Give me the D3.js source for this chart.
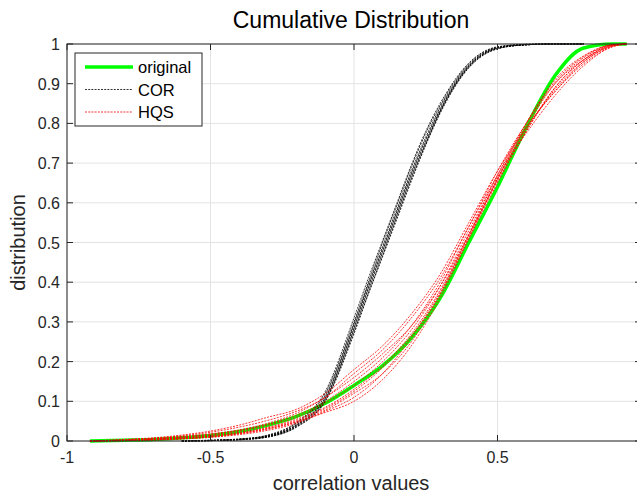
<!DOCTYPE html>
<html>
<head>
<meta charset="utf-8">
<script src="https://cdn.jsdelivr.net/npm/d3@7"></script>
<style>
  body { margin: 0; background: #fff; }
  svg { display: block; font-family: "Liberation Sans", Arial, sans-serif; }
  .grid line { stroke: #e3e3e3; stroke-width: 1; }
  .tick_label { font-size: 16px; fill: #262626; }
</style>
</head>
<body>
<svg id="graph" width="637" height="495"></svg>
<script>
// x grids for the cdf samples
let redX = [-0.92, -0.8, -0.7, -0.6, -0.5, -0.4, -0.3, -0.2, -0.1, 0, 0.1, 0.2, 0.3, 0.4, 0.5, 0.6, 0.7, 0.8, 0.9, 0.95];
let corX = [-0.6, -0.5, -0.4, -0.3, -0.2, -0.1, 0, 0.05, 0.1, 0.15, 0.2, 0.25, 0.3, 0.4, 0.5, 0.6, 0.7, 0.8];

// original (on redX)
let original = [0, 0.002, 0.004, 0.008, 0.014, 0.024, 0.04, 0.062, 0.095, 0.14, 0.19, 0.26, 0.36, 0.50, 0.64, 0.79, 0.92, 0.99, 1, 1];

// COR runs (on corX)
let cor = [
    [0, 0.001, 0.004, 0.012, 0.04, 0.11, 0.29, 0.39, 0.485, 0.58, 0.675, 0.76, 0.835, 0.945, 0.99, 0.998, 1, 1],
    [0, 0.001, 0.003, 0.01, 0.035, 0.1, 0.27, 0.37, 0.465, 0.56, 0.655, 0.745, 0.825, 0.94, 0.988, 0.998, 1, 1],
    [0, 0.002, 0.005, 0.014, 0.045, 0.12, 0.30, 0.40, 0.5, 0.595, 0.69, 0.775, 0.845, 0.95, 0.992, 0.999, 1, 1],
    [0, 0.001, 0.004, 0.011, 0.038, 0.105, 0.28, 0.38, 0.475, 0.57, 0.665, 0.75, 0.83, 0.943, 0.989, 0.998, 1, 1],
    [0, 0.001, 0.004, 0.013, 0.042, 0.115, 0.295, 0.395, 0.49, 0.585, 0.68, 0.765, 0.84, 0.947, 0.991, 0.999, 1, 1],
    [0, 0.001, 0.003, 0.01, 0.036, 0.102, 0.275, 0.372, 0.468, 0.565, 0.66, 0.748, 0.828, 0.941, 0.988, 0.998, 1, 1],
    [0, 0.002, 0.005, 0.015, 0.047, 0.125, 0.31, 0.41, 0.505, 0.6, 0.695, 0.78, 0.85, 0.952, 0.993, 0.999, 1, 1],
    [0, 0.001, 0.004, 0.012, 0.04, 0.108, 0.285, 0.385, 0.48, 0.575, 0.67, 0.755, 0.832, 0.944, 0.99, 0.998, 1, 1]
];

// HQS runs (on redX)
let hqs = [
    [0, 0.003, 0.006, 0.011, 0.018, 0.028, 0.045, 0.07, 0.11, 0.16, 0.22, 0.29, 0.39, 0.52, 0.655, 0.78, 0.89, 0.96, 0.997, 1],
    [0, 0.002, 0.004, 0.008, 0.013, 0.022, 0.035, 0.055, 0.085, 0.13, 0.19, 0.27, 0.38, 0.52, 0.66, 0.79, 0.9, 0.965, 0.998, 1],
    [0, 0.004, 0.008, 0.015, 0.025, 0.04, 0.06, 0.08, 0.12, 0.18, 0.24, 0.32, 0.42, 0.55, 0.68, 0.79, 0.88, 0.95, 0.993, 1],
    [0, 0.001, 0.002, 0.005, 0.009, 0.016, 0.027, 0.045, 0.075, 0.11, 0.17, 0.26, 0.37, 0.51, 0.65, 0.78, 0.89, 0.96, 0.997, 1],
    [0, 0.002, 0.005, 0.01, 0.017, 0.027, 0.042, 0.065, 0.1, 0.15, 0.21, 0.29, 0.40, 0.54, 0.67, 0.79, 0.88, 0.955, 0.995, 1],
    [0, 0.001, 0.003, 0.006, 0.01, 0.018, 0.03, 0.048, 0.072, 0.1, 0.155, 0.24, 0.36, 0.51, 0.66, 0.8, 0.91, 0.97, 0.998, 1],
    [0, 0.003, 0.007, 0.013, 0.022, 0.035, 0.052, 0.075, 0.11, 0.17, 0.23, 0.31, 0.41, 0.54, 0.68, 0.8, 0.9, 0.96, 0.996, 1],
    [0, 0.002, 0.004, 0.007, 0.012, 0.02, 0.033, 0.052, 0.082, 0.125, 0.185, 0.265, 0.375, 0.515, 0.66, 0.785, 0.885, 0.955, 0.995, 1],
    [0, 0.002, 0.005, 0.009, 0.015, 0.025, 0.04, 0.06, 0.095, 0.14, 0.2, 0.28, 0.39, 0.53, 0.665, 0.775, 0.87, 0.945, 0.993, 1],
    [0, 0.001, 0.003, 0.006, 0.011, 0.019, 0.031, 0.049, 0.078, 0.12, 0.17, 0.25, 0.37, 0.52, 0.67, 0.8, 0.905, 0.968, 0.998, 1]
];

let xTicks = [-1, -0.5, 0, 0.5, 1];
let yTicks = [0, 0.1, 0.2, 0.3, 0.4, 0.5, 0.6, 0.7, 0.8, 0.9, 1];
let legendNames = ["original", "COR", "HQS"];

let svg = d3.select("#graph");

let m_left = 67, m_right = 641, m_top = 44, m_bottom = 441;

let xScale = d3.scaleLinear().domain([-1, 1]).range([m_left, m_right]);
let yScale = d3.scaleLinear().domain([0, 1]).range([m_bottom, m_top]);

let axisColor = "#262626";

// grid
let grid = svg.append("g").attr("class", "grid");
grid.selectAll(".gx").data(xTicks).enter().append("line")
    .attr("x1", d => xScale(d)).attr("x2", d => xScale(d))
    .attr("y1", m_top).attr("y2", m_bottom);
grid.selectAll(".gy").data(yTicks).enter().append("line")
    .attr("x1", m_left).attr("x2", m_right)
    .attr("y1", d => yScale(d)).attr("y2", d => yScale(d));

let line = d3.line()
    .x(d => xScale(d[0]))
    .y(d => yScale(d[1]))
    .curve(d3.curveMonotoneX);

let plot = svg.append("g");

plot.append("path")
    .attr("d", line(redX.map((x, i) => [x, original[i]])))
    .attr("fill", "none")
    .attr("stroke", "#00ff00")
    .attr("stroke-width", 3.5);

cor.forEach(run => {
    plot.append("path")
        .attr("d", line(corX.map((x, i) => [x, run[i]])))
        .attr("fill", "none")
        .attr("stroke", "#000")
        .attr("stroke-width", 0.8)
        .attr("stroke-dasharray", "2,1.2");
});

hqs.forEach(run => {
    plot.append("path")
        .attr("d", line(redX.map((x, i) => [x, run[i]])))
        .attr("fill", "none")
        .attr("stroke", "#ff0000")
        .attr("stroke-width", 0.8)
        .attr("stroke-dasharray", "2,1.2");
});

// axes box and inside ticks
let axes = svg.append("g")
    .attr("stroke", axisColor)
    .attr("stroke-width", 1);
axes.append("rect")
    .attr("x", m_left).attr("y", m_top)
    .attr("width", m_right - m_left).attr("height", m_bottom - m_top)
    .attr("fill", "none");
axes.selectAll(".tb").data(xTicks).enter().append("line")
    .attr("x1", d => xScale(d)).attr("x2", d => xScale(d))
    .attr("y1", m_bottom).attr("y2", m_bottom - 6);
axes.selectAll(".tt").data(xTicks).enter().append("line")
    .attr("x1", d => xScale(d)).attr("x2", d => xScale(d))
    .attr("y1", m_top).attr("y2", m_top + 6);
axes.selectAll(".tl").data(yTicks).enter().append("line")
    .attr("x1", m_left).attr("x2", m_left + 6)
    .attr("y1", d => yScale(d)).attr("y2", d => yScale(d));
axes.selectAll(".tr").data(yTicks).enter().append("line")
    .attr("x1", m_right).attr("x2", m_right - 6)
    .attr("y1", d => yScale(d)).attr("y2", d => yScale(d));

// tick labels
svg.append("g").selectAll("text").data(xTicks).enter().append("text")
    .attr("class", "tick_label")
    .attr("x", d => xScale(d))
    .attr("y", m_bottom + 22)
    .attr("text-anchor", "middle")
    .text(d => d);
svg.append("g").selectAll("text").data(yTicks).enter().append("text")
    .attr("class", "tick_label")
    .attr("x", m_left - 7)
    .attr("y", d => yScale(d) + 6)
    .attr("text-anchor", "end")
    .text(d => d);

// titles
svg.append("text")
    .attr("x", 351)
    .attr("y", 28)
    .attr("text-anchor", "middle")
    .attr("font-size", 23)
    .attr("fill", "#000")
    .text("Cumulative Distribution");
svg.append("text")
    .attr("x", 351)
    .attr("y", 490)
    .attr("text-anchor", "middle")
    .attr("font-size", 20)
    .attr("fill", "#262626")
    .text("correlation values");
svg.append("text")
    .attr("transform", "translate(25," + ((m_top + m_bottom) / 2) + ") rotate(-90)")
    .attr("text-anchor", "middle")
    .attr("font-size", 20)
    .attr("fill", "#262626")
    .text("distribution");

// legend
let legend = svg.append("g");
legend.append("rect")
    .attr("x", 75).attr("y", 53)
    .attr("width", 127).attr("height", 73)
    .attr("fill", "#fff")
    .attr("stroke", axisColor);
let legendStyle = [
    {color: "#00ff00", width: 3.5, dash: null},
    {color: "#000", width: 0.8, dash: "2,1.2"},
    {color: "#ff0000", width: 0.8, dash: "2,1.2"}
];
legendNames.forEach((name, i) => {
    let y = 67 + i * 22.5;
    legend.append("line")
        .attr("x1", 85).attr("x2", 133)
        .attr("y1", y).attr("y2", y)
        .attr("stroke", legendStyle[i].color)
        .attr("stroke-width", legendStyle[i].width)
        .attr("stroke-dasharray", legendStyle[i].dash);
    legend.append("text")
        .attr("x", 138).attr("y", y + 6)
        .attr("font-size", 16.5)
        .attr("fill", "#000")
        .text(name);
});
</script>
</body>
</html>
